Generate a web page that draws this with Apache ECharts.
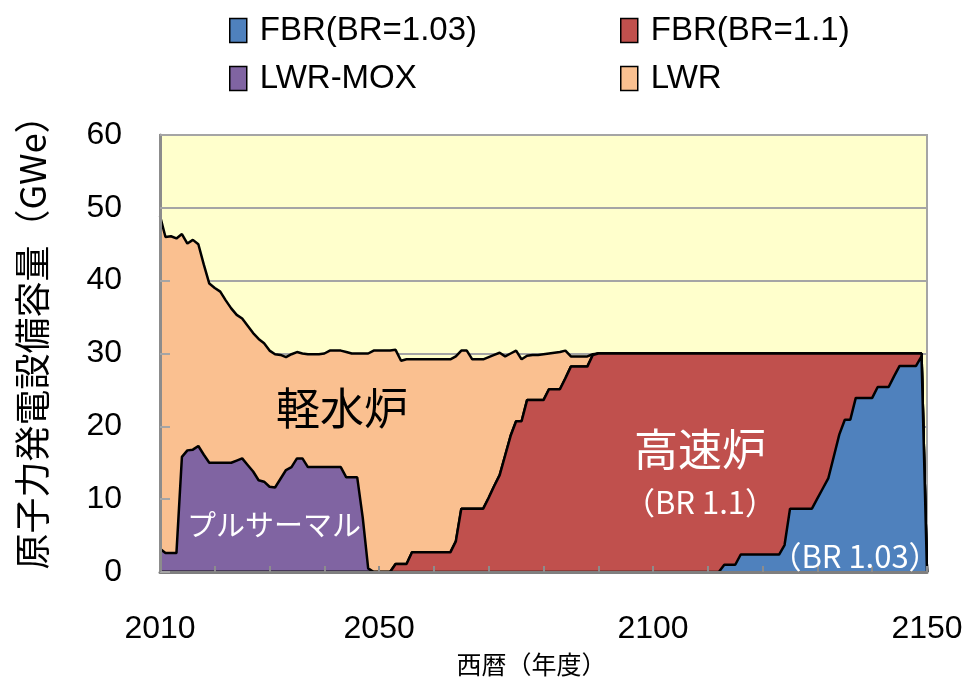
<!DOCTYPE html>
<html>
<head>
<meta charset="utf-8">
<script src="https://cdn.jsdelivr.net/npm/echarts@6/dist/echarts.min.js"></script>
<style>
html, body { margin: 0; padding: 0; background: #fff; }
#main { width: 966px; height: 686px; }
</style>
</head>
<body>
<div id="main"></div>
<script>
// years run 2010..2150, one value per year, one row per decade
var startYear = 2010;
var endYear = 2150;
var xLabelYears = ['2010', '2050', '2100', '2150'];

var fbr103 = [
    0, 0, 0, 0, 0, 0, 0, 0, 0, 0,
    0, 0, 0, 0, 0, 0, 0, 0, 0, 0,
    0, 0, 0, 0, 0, 0, 0, 0, 0, 0,
    0, 0, 0, 0, 0, 0, 0, 0, 0, 0,
    0, 0, 0, 0, 0, 0, 0, 0, 0, 0,
    0, 0, 0, 0, 0, 0, 0, 0, 0, 0,
    0, 0, 0, 0, 0, 0, 0, 0, 0, 0,
    0, 0, 0, 0, 0, 0, 0, 0, 0, 0,
    0, 0, 0, 0, 0, 0, 0, 0, 0, 0,
    0, 0, 0, 0, 0, 0, 0, 0, 0, 0,
    0, 0, 0, 1.0, 1.0, 1.0, 2.4, 2.4, 2.4, 2.4,
    2.4, 2.4, 2.4, 2.4, 3.7, 8.7, 8.7, 8.7, 8.7, 8.7,
    10.1, 11.5, 12.9, 15.9, 18.9, 20.9, 20.9, 23.9, 23.9, 23.9,
    23.9, 25.4, 25.4, 25.4, 26.9, 28.3, 28.3, 28.3, 28.3, 29.6,
    0
];

var fbr11 = [
    0, 0, 0, 0, 0, 0, 0, 0, 0, 0,
    0, 0, 0, 0, 0, 0, 0, 0, 0, 0,
    0, 0, 0, 0, 0, 0, 0, 0, 0, 0,
    0, 0, 0, 0, 0, 0, 0, 0, 0, 0,
    0, 0, 0, 1.1, 1.1, 1.1, 2.7, 2.7, 2.7, 2.7,
    2.7, 2.7, 2.7, 2.7, 4.2, 8.7, 8.7, 8.7, 8.7, 8.7,
    10.2, 11.8, 13.3, 16.0, 18.7, 20.7, 20.7, 23.6, 23.6, 23.6,
    23.6, 25.1, 25.1, 25.1, 26.6, 28.2, 28.2, 28.2, 28.2, 29.8,
    30, 30, 30, 30, 30, 30, 30, 30, 30, 30,
    30, 30, 30, 30, 30, 30, 30, 30, 30, 30,
    30, 30, 30, 29.0, 29.0, 29.0, 27.6, 27.6, 27.6, 27.6,
    27.6, 27.6, 27.6, 27.6, 26.3, 21.3, 21.3, 21.3, 21.3, 21.3,
    19.9, 18.5, 17.1, 14.1, 11.1, 9.1, 9.1, 6.1, 6.1, 6.1,
    6.1, 4.6, 4.6, 4.6, 3.1, 1.7, 1.7, 1.7, 1.7, 0.4,
    0
];

var lwrMox = [
    3.2, 2.6, 2.6, 2.6, 15.8, 16.7, 16.8, 17.3, 16.1, 15.0,
    15.0, 15.0, 15.0, 15.0, 15.3, 15.6, 14.7, 13.8, 12.6, 12.4,
    11.7, 11.6, 12.8, 14.0, 14.4, 15.6, 15.6, 14.4, 14.4, 14.4,
    14.4, 14.4, 14.4, 14.4, 13.0, 13.0, 13.0, 7.5, 0.5, 0,
    0, 0, 0, 0, 0, 0, 0, 0, 0, 0,
    0, 0, 0, 0, 0, 0, 0, 0, 0, 0,
    0, 0, 0, 0, 0, 0, 0, 0, 0, 0,
    0, 0, 0, 0, 0, 0, 0, 0, 0, 0,
    0, 0, 0, 0, 0, 0, 0, 0, 0, 0,
    0, 0, 0, 0, 0, 0, 0, 0, 0, 0,
    0, 0, 0, 0, 0, 0, 0, 0, 0, 0,
    0, 0, 0, 0, 0, 0, 0, 0, 0, 0,
    0, 0, 0, 0, 0, 0, 0, 0, 0, 0,
    0, 0, 0, 0, 0, 0, 0, 0, 0, 0,
    0
];

var lwr = [
    45.7, 43.4, 43.5, 43.2, 30.6, 28.4, 28.8, 27.7, 26.1, 24.6,
    24.0, 23.5, 22.3, 21.2, 20.0, 19.2, 19.1, 19.0, 19.4, 19.0,
    18.7, 18.3, 17.0, 15.5, 15.5, 14.6, 14.4, 15.5, 15.5, 15.5,
    15.6, 16.0, 16.0, 16.0, 17.2, 17.0, 17.0, 22.5, 29.5, 30.4,
    30.4, 30.4, 30.4, 29.4, 27.9, 28.1, 26.5, 26.5, 26.5, 26.5,
    26.5, 26.5, 26.5, 26.5, 25.4, 21.7, 21.7, 20.5, 20.5, 20.5,
    19.3, 18.0, 16.8, 13.6, 11.3, 9.7, 8.5, 6.1, 6.2, 6.2,
    6.3, 4.9, 5.0, 5.1, 3.8, 1.4, 1.4, 1.4, 1.4, 0.1,
    0, 0, 0, 0, 0, 0, 0, 0, 0, 0,
    0, 0, 0, 0, 0, 0, 0, 0, 0, 0,
    0, 0, 0, 0, 0, 0, 0, 0, 0, 0,
    0, 0, 0, 0, 0, 0, 0, 0, 0, 0,
    0, 0, 0, 0, 0, 0, 0, 0, 0, 0,
    0, 0, 0, 0, 0, 0, 0, 0, 0, 0,
    0
];

var years = [];
for (var y = startYear; y <= endYear; y++) {
    years.push(String(y));
}

var numFont = 'Liberation Sans';
var jpFont = 'Noto Sans CJK JP';

// stacked area with black outline
function areaSeries(name, values, color, z) {
    return {
        name: name,
        type: 'line',
        stack: 'total',
        data: values,
        xAxisIndex: 0,
        yAxisIndex: 0,
        symbol: 'none',
        z: z,
        lineStyle: { color: '#000', width: 2.5 },
        itemStyle: { color: color },
        areaStyle: { color: color, opacity: 1 },
        emphasis: { disabled: true }
    };
}

function legendItem(name, color) {
    return { name: name, itemStyle: { color: color } };
}

var legendCommon = {
    orient: 'vertical',
    top: 9,
    icon: 'rect',
    itemWidth: 17,
    itemHeight: 24,
    itemGap: 15,
    itemStyle: { borderColor: '#000', borderWidth: 1.5 },
    textStyle: { fontFamily: numFont, fontSize: 33, color: '#000', padding: [0, 0, 0, 8] }
};

var myChart = echarts.init(document.getElementById('main'), null, { renderer: 'canvas' });
var option = {
    animation: false,
    backgroundColor: '#fff',
    legend: [
        Object.assign({}, legendCommon, {
            left: 224,
            data: [legendItem('FBR(BR=1.03)', '#4F81BD'), legendItem('LWR-MOX', '#8064A2')]
        }),
        Object.assign({}, legendCommon, {
            left: 615,
            data: [legendItem('FBR(BR=1.1)', '#C0504D'), legendItem('LWR', '#FAC090')]
        })
    ],
    grid: {
        left: 160,
        right: 39,
        top: 135,
        bottom: 114,
        show: true,
        backgroundColor: '#FFFFCC',
        borderColor: '#A5A5A5',
        borderWidth: 2
    },
    xAxis: [{
        type: 'category',
        data: years,
        boundaryGap: false,
        z: 10,
        name: '西暦（年度）',
        nameLocation: 'middle',
        nameGap: 80,
        nameTextStyle: { fontFamily: jpFont, fontSize: 25, color: '#000', padding: [0, 24, 0, 0] },
        axisLine: { lineStyle: { color: '#7F7F7F', width: 3 } },
        axisTick: {
            inside: true,
            length: 6,
            interval: function (index) { return index % 10 === 0; },
            lineStyle: { color: '#8C8C8C', width: 2 }
        },
        axisLabel: {
            margin: 41,
            fontFamily: numFont,
            fontSize: 32,
            color: '#000',
            interval: function (index, value) { return xLabelYears.indexOf(value) >= 0; }
        },
        splitLine: { show: false }
    }],
    yAxis: [{
        type: 'value',
        min: 0,
        max: 60,
        interval: 10,
        z: 10,
        name: '原子力発電設備容量（GWe）',
        nameLocation: 'middle',
        nameRotate: 90,
        nameGap: 110,
        nameTextStyle: { fontFamily: jpFont, fontSize: 36, color: '#000', padding: [0, 0, 0, 40] },
        axisLine: { show: true, lineStyle: { color: '#8C8C8C', width: 3 } },
        axisTick: { show: true, inside: true, length: 10, lineStyle: { color: '#A5A5A5', width: 2 } },
        axisLabel: { margin: 38, fontFamily: numFont, fontSize: 32, color: '#000' },
        splitLine: { show: false }
    }, {
        // gridlines only, kept behind the areas
        type: 'value',
        min: 0,
        max: 60,
        interval: 10,
        z: 0,
        position: 'left',
        axisLine: { show: false },
        axisTick: { show: false },
        axisLabel: { show: false },
        splitLine: { lineStyle: { color: '#A5A5A5', width: 2 } }
    }],
    series: [
        areaSeries('FBR(BR=1.03)', fbr103, '#4F81BD', 6),
        areaSeries('FBR(BR=1.1)', fbr11, '#C0504D', 5),
        areaSeries('LWR-MOX', lwrMox, '#8064A2', 4),
        areaSeries('LWR', lwr, '#FAC090', 3)
    ],
    graphic: [
        { type: 'text', x: 342, y: 408, z: 100, style: { text: '軽水炉', fill: '#000', fontFamily: jpFont, fontSize: 44, textAlign: 'center', textVerticalAlign: 'middle' } },
        { type: 'text', x: 274, y: 525, z: 100, style: { text: 'プルサーマル', fill: '#fff', fontFamily: jpFont, fontSize: 29, textAlign: 'center', textVerticalAlign: 'middle' } },
        { type: 'text', x: 700, y: 449, z: 100, style: { text: '高速炉', fill: '#fff', fontFamily: jpFont, fontSize: 44, textAlign: 'center', textVerticalAlign: 'middle' } },
        { type: 'text', x: 700, y: 502, z: 100, style: { text: '（BR 1.1）', fill: '#fff', fontFamily: jpFont, fontSize: 31, textAlign: 'center', textVerticalAlign: 'middle' } },
        { type: 'text', x: 855, y: 556, z: 100, style: { text: '（BR 1.03）', fill: '#fff', fontFamily: jpFont, fontSize: 31, textAlign: 'center', textVerticalAlign: 'middle' } }
    ]
};
myChart.setOption(option);
</script>
</body>
</html>
